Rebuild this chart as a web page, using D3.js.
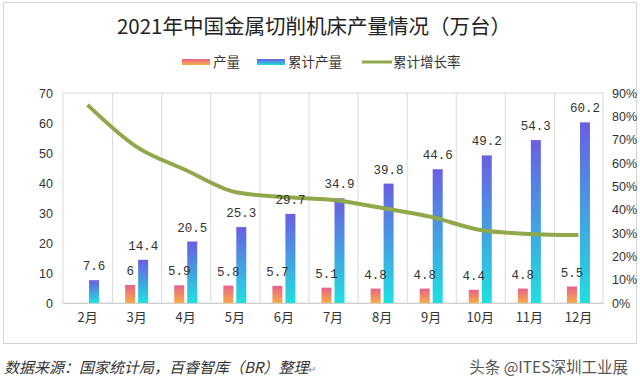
<!DOCTYPE html>
<html>
<head>
<meta charset="utf-8">
<script src="https://cdn.jsdelivr.net/npm/d3@7"></script>
<style>
  body { margin: 0; background: #fff; }
  svg { display: block; }
</style>
</head>
<body>
<svg id="chart" width="640" height="386"></svg>
<script>
const months = ["2月", "3月", "4月", "5月", "6月", "7月", "8月", "9月", "10月", "11月", "12月"];
const output = [null, 6, 5.9, 5.8, 5.7, 5.1, 4.8, 4.8, 4.4, 4.8, 5.5];
const cumOutput = [7.6, 14.4, 20.5, 25.3, 29.7, 34.9, 39.8, 44.6, 49.2, 54.3, 60.2];
const cumGrowth = [84.9, 66.9, 57.0, 47.6, 45.4, 44.1, 40.7, 36.9, 31.3, 29.6, 29.1];
const leftTicks = [0, 10, 20, 30, 40, 50, 60, 70];
const rightTicks = [0, 10, 20, 30, 40, 50, 60, 70, 80, 90];

const svg = d3.select("#chart");
const cjk = "'Noto Sans CJK SC', 'Noto Sans', sans-serif";
const latin = "'Liberation Sans', sans-serif";
const mono = "'Liberation Mono', monospace";
const margin = { top: 93, right: 37, bottom: 83, left: 63 };
const width = 640, height = 386;
const innerWidth = width - margin.left - margin.right;
const innerHeight = height - margin.top - margin.bottom;

const defs = svg.append("defs");
function vgrad(id, top, bottom) {
  const gr = defs.append("linearGradient").attr("id", id)
    .attr("x1", "0%").attr("y1", "0%").attr("x2", "0%").attr("y2", "100%");
  gr.append("stop").attr("offset", "0%").attr("stop-color", top);
  gr.append("stop").attr("offset", "100%").attr("stop-color", bottom);
}
vgrad("g-out", "#e8608a", "#f6ae48");
vgrad("g-cum", "#6a5ee2", "#1fe0e0");

// outer frame
svg.append("rect")
  .attr("x", 3.5).attr("y", 2.5)
  .attr("width", 633).attr("height", 341)
  .attr("fill", "none").attr("stroke", "#d4d4d4");

// title
svg.append("text")
  .attr("x", 314).attr("y", 34)
  .attr("text-anchor", "middle")
  .attr("font-family", cjk)
  .attr("font-size", 20.5)
  .attr("fill", "#222")
  .text("2021年中国金属切削机床产量情况（万台）");

// legend
const legendItems = [
  { label: "产量", x: 182, type: "rect", fill: "url(#g-out)" },
  { label: "累计产量", x: 257, type: "rect", fill: "url(#g-cum)" },
  { label: "累计增长率", x: 362, type: "line", fill: "#8fa84a" }
];
const legend = svg.append("g").attr("transform", "translate(0,62)");
legendItems.forEach(d => {
  if (d.type === "rect") {
    legend.append("rect").attr("x", d.x).attr("y", -3).attr("width", 28).attr("height", 6).attr("fill", d.fill);
  } else {
    legend.append("line").attr("x1", d.x).attr("x2", d.x + 30).attr("y1", 0).attr("y2", 0)
      .attr("stroke", d.fill).attr("stroke-width", 3);
  }
  legend.append("text")
    .attr("x", d.x + 31).attr("y", 5)
    .attr("font-family", cjk).attr("font-size", 13.5)
    .attr("fill", "#333")
    .text(d.label);
});

const g = svg.append("g").attr("transform", `translate(${margin.left},${margin.top})`);

const x = d3.scaleBand().domain(months).range([0, innerWidth]).padding(0);
const y = d3.scaleLinear().domain([0, 70]).range([innerHeight, 0]);
const y2 = d3.scaleLinear().domain([0, 90]).range([innerHeight, 0]);

// plot frame and vertical grid
g.append("rect").attr("x", 0).attr("y", 0).attr("width", innerWidth).attr("height", innerHeight)
  .attr("fill", "none").attr("stroke", "#d9d9d9");
g.selectAll("line.vgrid")
  .data(months.slice(1))
  .join("line")
  .attr("class", "vgrid")
  .attr("x1", d => x(d) + 0.5).attr("x2", d => x(d) + 0.5)
  .attr("y1", 0).attr("y2", innerHeight)
  .attr("stroke", "#d9d9d9");

// axes
const axisLeft = d3.axisLeft(y).tickValues(leftTicks).tickSize(0).tickPadding(10);
g.append("g")
  .call(axisLeft)
  .attr("font-family", latin).attr("font-size", 12.5)
  .call(a => a.select(".domain").remove())
  .selectAll("text").attr("fill", "#333");

const axisRight = d3.axisRight(y2).tickValues(rightTicks).tickSize(0).tickPadding(9)
  .tickFormat(d => d + "%");
g.append("g").attr("transform", `translate(${innerWidth},0)`)
  .call(axisRight)
  .attr("font-family", latin).attr("font-size", 12.5)
  .call(a => a.select(".domain").remove())
  .selectAll("text").attr("fill", "#333");

const axisBottom = d3.axisBottom(x).tickSize(0).tickPadding(10);
g.append("g").attr("transform", `translate(0,${innerHeight})`)
  .call(axisBottom)
  .attr("font-family", cjk).attr("font-size", 13)
  .call(a => a.select(".domain").attr("stroke", "#cfcfcf"))
  .selectAll("text").attr("fill", "#333");

// bars
const barW = 10, gap = 1.5;
const cx = d => x(d) + x.bandwidth() / 2;

const outData = months.map((m, i) => ({ m, v: output[i] })).filter(d => d.v != null);
const cumData = months.map((m, i) => ({ m, v: cumOutput[i] }));

g.selectAll("rect.out").data(outData).join("rect")
  .attr("class", "out")
  .attr("x", d => cx(d.m) - gap - barW)
  .attr("y", d => y(d.v))
  .attr("width", barW)
  .attr("height", d => innerHeight - y(d.v))
  .attr("fill", "url(#g-out)");

g.selectAll("rect.cum").data(cumData).join("rect")
  .attr("class", "cum")
  .attr("x", d => cx(d.m) + gap)
  .attr("y", d => y(d.v))
  .attr("width", barW)
  .attr("height", d => innerHeight - y(d.v))
  .attr("fill", "url(#g-cum)");

// growth line
const line = d3.line()
  .x((d, i) => cx(months[i]))
  .y(d => y2(d))
  .curve(d3.curveMonotoneX);
g.append("path").datum(cumGrowth)
  .attr("d", line)
  .attr("fill", "none")
  .attr("stroke", "#8fa84a")
  .attr("stroke-width", 4)
  .attr("stroke-linejoin", "round");

// value labels
g.selectAll("text.outlbl").data(outData).join("text")
  .attr("class", "outlbl")
  .attr("x", d => cx(d.m) - gap - barW / 2)
  .attr("y", d => y(d.v) - 10)
  .attr("text-anchor", "middle")
  .attr("font-family", mono).attr("font-size", 12.5)
  .attr("fill", "#333")
  .text(d => d.v);

g.selectAll("text.cumlbl").data(cumData).join("text")
  .attr("class", "cumlbl")
  .attr("x", d => cx(d.m) + gap + barW / 2)
  .attr("y", d => y(d.v) - 10)
  .attr("text-anchor", "middle")
  .attr("font-family", mono).attr("font-size", 12.5)
  .attr("fill", "#333")
  .text(d => d.v);

// footer
const src = svg.append("text")
  .attr("x", 4).attr("y", 373)
  .attr("font-family", cjk).attr("font-size", 15).attr("font-style", "italic")
  .attr("fill", "#333");
src.append("tspan").text("数据来源：国家统计局，百睿智库（BR）整理");
src.append("tspan").attr("font-size", 10).attr("font-style", "normal").attr("fill", "#888").text("↵");

svg.append("text")
  .attr("x", 628).attr("y", 373)
  .attr("text-anchor", "end")
  .attr("font-family", cjk).attr("font-size", 15.5)
  .attr("fill", "#555")
  .text("头条 @ITES深圳工业展");
</script>
</body>
</html>
